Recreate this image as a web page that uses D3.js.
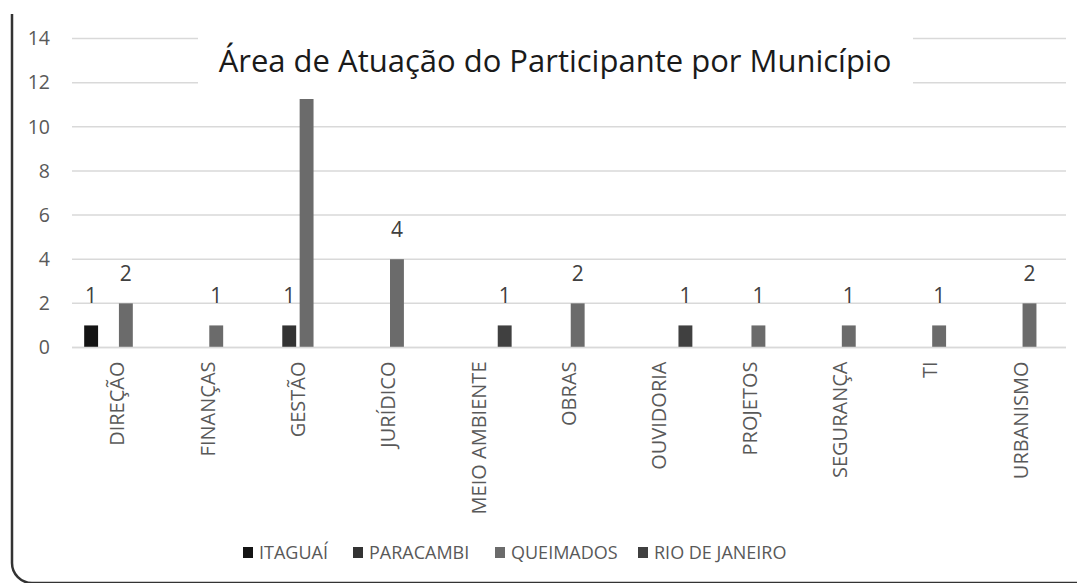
<!DOCTYPE html>
<html>
<head>
<meta charset="utf-8">
<script src="https://cdn.jsdelivr.net/npm/d3@7"></script>
<style>
  body { margin: 0; background: #fff; }
  svg { display: block; font-family: "Open Sans", sans-serif; }
</style>
</head>
<body>
<div id="chart"></div>
<script>
let categories = ["DIREÇÃO", "FINANÇAS", "GESTÃO", "JURÍDICO", "MEIO AMBIENTE", "OBRAS",
  "OUVIDORIA", "PROJETOS", "SEGURANÇA", "TI", "URBANISMO"];
let seriesNames = ["ITAGUAÍ", "PARACAMBI", "QUEIMADOS", "RIO DE JANEIRO"];
// values per series, one per category (null = no bar)
let itaguai    = [1, null, null, null, null, null, null, null, null, null, null];
let paracambi  = [null, null, 1, null, null, null, null, null, null, null, null];
let queimados  = [2, 1, 12, 4, null, 2, null, 1, 1, 1, 2];
let rioJaneiro = [null, null, null, null, 1, null, 1, null, null, null, null];
let yTicks = [0, 2, 4, 6, 8, 10, 12, 14];
let colors = ["#141414", "#333333", "#6b6b6b", "#404040"];

let allSeries = [itaguai, paracambi, queimados, rioJaneiro];

let W = 1077, H = 583;
let margin = {top: 38.5, left: 72, right: 12, bottom: 235.5};
let width = 994, height = H - margin.top - margin.bottom;
let titleBox = {x: 198, y: 22, w: 715, h: 77};

let svg = d3.select("#chart").append("svg")
    .attr("width", W)
    .attr("height", H);

// border (cropped rounded frame)
svg.append("path")
    .attr("d", "M12,14 V563 A20,20 0 0 0 32,583 H1100")
    .attr("fill", "none")
    .attr("stroke", "#333")
    .attr("stroke-width", 2.5);

let g = svg.append("g")
    .attr("transform", "translate(" + margin.left + "," + margin.top + ")");

let x = d3.scaleBand()
    .domain(categories)
    .range([0, width]);

let x1 = d3.scaleBand()
    .domain(seriesNames)
    .range([x.bandwidth() / 2 - 33, x.bandwidth() / 2 + 33])
    .paddingInner(0.2);

let y = d3.scaleLinear()
    .domain([0, 14])
    .range([height, 0]);

// gridlines
g.selectAll(".grid")
    .data(yTicks)
    .enter().append("line")
    .attr("x1", 0)
    .attr("x2", width)
    .attr("y1", d => y(d))
    .attr("y2", d => y(d))
    .attr("stroke", "#d9d9d9")
    .attr("stroke-width", 1.5);

// y axis labels
let yAxis = d3.axisLeft(y).tickValues(yTicks).tickSize(0).tickPadding(22);
let yAxisGroup = g.append("g").call(yAxis);
yAxisGroup.select(".domain").remove();
yAxisGroup.selectAll("text")
    .attr("fill", "#595959")
    .style("font-size", "19.5px")
    .style("font-family", "Open Sans, sans-serif");

// x axis labels
let xAxis = d3.axisBottom(x).tickSize(0).tickPadding(0);
let xAxisGroup = g.append("g")
    .attr("transform", "translate(0," + height + ")")
    .call(xAxis);
xAxisGroup.select(".domain").remove();
xAxisGroup.selectAll("text")
    .attr("fill", "#595959")
    .style("font-size", "20px")
    .style("font-family", "Open Sans, sans-serif")
    .attr("text-anchor", "end")
    .attr("transform", "rotate(-90)")
    .attr("x", -14)
    .attr("y", 0)
    .attr("dy", "0.35em");

// bars
let barData = [];
allSeries.forEach((vals, si) => {
  vals.forEach((v, ci) => {
    if (v !== null) barData.push({cat: categories[ci], series: seriesNames[si], value: v, si: si});
  });
});

g.selectAll(".bar")
    .data(barData)
    .enter().append("rect")
    .attr("class", "bar")
    .attr("x", d => x(d.cat) + x1(d.series))
    .attr("width", x1.bandwidth())
    .attr("y", d => y(d.value))
    .attr("height", d => height - y(d.value))
    .attr("fill", d => colors[d.si]);

// data labels (the one hidden behind the title box is left out)
g.selectAll(".val")
    .data(barData.filter(d => y(d.value) + margin.top - 22 > titleBox.y + titleBox.h))
    .enter().append("text")
    .attr("class", "val")
    .attr("x", d => x(d.cat) + x1(d.series) + x1.bandwidth() / 2)
    .attr("y", d => y(d.value) - 22)
    .attr("text-anchor", "middle")
    .attr("fill", "#404040")
    .style("font-size", "21px")
    .text(d => d.value);

// title box over the plot
svg.append("rect")
    .attr("x", titleBox.x)
    .attr("y", titleBox.y)
    .attr("width", titleBox.w)
    .attr("height", titleBox.h)
    .attr("fill", "#fff");

svg.append("text")
    .attr("x", 555)
    .attr("y", 72)
    .attr("text-anchor", "middle")
    .attr("fill", "#1a1a1a")
    .style("font-size", "31px")
    .text("Área de Atuação do Participante por Município");

// baseline
g.append("line")
    .attr("x1", 0)
    .attr("x2", width)
    .attr("y1", height)
    .attr("y2", height)
    .attr("stroke", "#d9d9d9")
    .attr("stroke-width", 1.5);

// legend
let legendX = [243, 353, 495, 638];
let legend = svg.selectAll(".legend")
    .data(seriesNames)
    .enter().append("g")
    .attr("transform", (d, i) => "translate(" + legendX[i] + ",547)");

legend.append("rect")
    .attr("width", 10)
    .attr("height", 11)
    .attr("fill", (d, i) => colors[i]);

legend.append("text")
    .attr("x", 16)
    .attr("y", 5.5)
    .attr("dy", "0.35em")
    .attr("fill", "#595959")
    .style("font-size", "18px")
    .text(d => d);
</script>
</body>
</html>
